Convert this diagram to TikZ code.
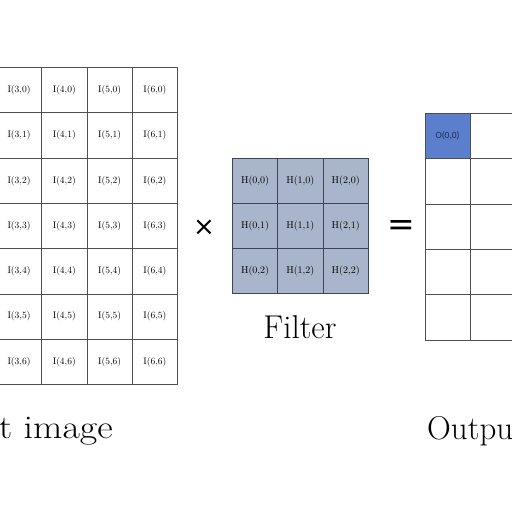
\documentclass[tikz,border=0pt]{standalone}
\usepackage{fontspec}
\newfontfamily\carl{Carlito}
\newfontfamily\dejavu{DejaVu Sans}
\definecolor{gridline}{HTML}{505050}
\definecolor{filterfill}{HTML}{A9B5CA}
\definecolor{filterline}{HTML}{3E4656}
\definecolor{outfill}{HTML}{5B7FCC}
\definecolor{outtext}{HTML}{1F2D55}
\tikzset{
  incell/.style={draw=gridline, line width=0.8pt, minimum size=45.3pt, inner sep=0pt, anchor=north west, font=\fontsize{9.5}{10}\selectfont},
  fcell/.style={draw=filterline, fill=filterfill, line width=0.8pt, minimum size=45.3pt, inner sep=0pt, anchor=north west, font=\fontsize{10}{11}\selectfont},
  ocell/.style={draw=gridline, line width=0.8pt, minimum size=45.3pt, inner sep=0pt, anchor=north west},
  biglabel/.style={font=\fontsize{33}{36}\selectfont, inner sep=0pt},
  opsign/.style={font=\dejavu\fontsize{33}{36}\selectfont, inner sep=0pt}
}
\begin{document}
\begin{tikzpicture}[x=1pt,y=-1pt]
\useasboundingbox (0,0) rectangle (512,512);
\fill[white] (0,0) rectangle (512,512);
\begin{scope}
\clip (0,0) rectangle (512,512);
% input image 7x7
\foreach \i in {0,...,6}{
  \foreach \j in {0,...,6}{
    \node[incell] (I-\i-\j) at ({-4+(\i-3)*45.3},{67+\j*45.3}) {I(\i,\j)};
  }
}
% filter 3x3
\foreach \i in {0,...,2}{
  \foreach \j in {0,...,2}{
    \node[fcell] (H-\i-\j) at ({232+\i*45.3},{157.5+\j*45.3}) {H(\i,\j)};
  }
}
% output 5x5
\foreach \i in {0,...,4}{
  \foreach \j in {0,...,4}{
    \node[ocell] (O-\i-\j) at ({424.5+\i*45.3},{113+\j*45.3}) {};
  }
}
\node[ocell, fill=outfill, text=outtext, font=\carl\fontsize{9.5}{10}\selectfont] (O00) at (424.5,113) {O(0,0)};
\node[biglabel, anchor=base east, xscale=1.15, transform shape] (inlab) at (113,438) {Input image};
\end{scope}
\node[opsign, font=\dejavu\fontsize{26}{28}\selectfont] (times) at (204,228) {×};
\node[opsign] (equals) at (401,228) {=};
\node[biglabel, anchor=base] (filterlab) at (300,338) {Filter};
\node[biglabel, anchor=base west] (outlab) at (427,439) {Output};
\end{tikzpicture}
\end{document}
